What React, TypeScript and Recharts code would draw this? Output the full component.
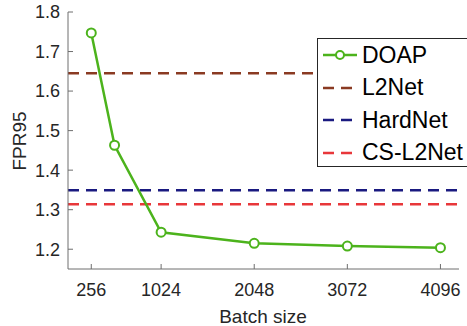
import { LineChart, Line, XAxis, YAxis, ReferenceLine, Label } from 'recharts';

const batchSizes = [256, 512, 1024, 2048, 3072, 4096];
const doapFpr = [1.747, 1.463, 1.243, 1.215, 1.208, 1.204];
const xTicks = [256, 1024, 2048, 3072, 4096];
const yTicks = [1.2, 1.3, 1.4, 1.5, 1.6, 1.7, 1.8];

const baselines = [
  { name: 'L2Net', value: 1.645, color: '#8a3a22' },
  { name: 'HardNet', value: 1.349, color: '#1a1a80' },
  { name: 'CS-L2Net', value: 1.314, color: '#e8373a' },
];

const data = batchSizes.map((b, i) => ({ batch: b, doap: doapFpr[i] }));

const GREEN = '#4cb31c';
const FONT = '"Liberation Sans", Arial, Helvetica, sans-serif';

function LegendBox() {
  return (
    <div
      style={{
        position: 'absolute',
        left: 317,
        top: 38,
        width: 152,
        height: 129,
        border: '1px solid #262626',
        background: '#fff',
        boxSizing: 'border-box',
        fontFamily: FONT,
        fontSize: 23,
        color: '#000',
      }}
    >
      <div style={{ display: 'flex', alignItems: 'center', height: 32.5 }}>
        <svg width={41} height={20} style={{ marginLeft: 3 }}>
          <line x1={2} y1={10} x2={36} y2={10} stroke={GREEN} strokeWidth={2.5} />
          <circle cx={19} cy={10} r={4} fill="#fff" stroke={GREEN} strokeWidth={2} />
        </svg>
        <span>DOAP</span>
      </div>
      {baselines.map((b) => (
        <div key={b.name} style={{ display: 'flex', alignItems: 'center', height: 32.5 }}>
          <svg width={41} height={20} style={{ marginLeft: 3 }}>
            <line x1={2} y1={10} x2={36} y2={10} stroke={b.color} strokeWidth={2.5} strokeDasharray="11 7" />
          </svg>
          <span>{b.name}</span>
        </div>
      ))}
    </div>
  );
}

export default function App() {
  return (
    <div style={{ position: 'absolute', left: 0, top: 0, width: 467, height: 326, background: '#fff' }}>
      <LineChart width={467} height={326} data={data} margin={{ top: 12, right: 8, bottom: 0, left: 0 }}>
        <XAxis
          dataKey="batch"
          type="number"
          domain={[0, 4300]}
          ticks={xTicks}
          interval={0}
          height={57}
          tickSize={-5}
          tickMargin={19}
          stroke="#6e6e6e"
          tick={{ fill: '#262626', fontSize: 18, fontFamily: FONT }}
        >
          <Label
            content={() => (
              <text x={263} y={323} textAnchor="middle" fill="#262626" fontSize={19} fontFamily={FONT}>
                Batch size
              </text>
            )}
          />
        </XAxis>
        <YAxis
          type="number"
          domain={[1.15, 1.8]}
          ticks={yTicks}
          interval={0}
          width={68}
          tickSize={-5}
          tickMargin={13}
          stroke="#6e6e6e"
          tickFormatter={(v: number) => v.toFixed(1)}
          tick={{ fill: '#262626', fontSize: 18, fontFamily: FONT }}
        >
          <Label
            content={() => (
              <text
                x={26}
                y={141}
                transform="rotate(-90 26 141)"
                textAnchor="middle"
                fill="#262626"
                fontSize={19}
                fontFamily={FONT}
              >
                FPR95
              </text>
            )}
          />
        </YAxis>
        {baselines.map((b) => (
          <ReferenceLine
            key={b.name}
            y={b.value}
            stroke={b.color}
            strokeWidth={2.5}
            strokeDasharray="11 7"
          />
        ))}
        <Line
          type="linear"
          dataKey="doap"
          stroke={GREEN}
          strokeWidth={2.5}
          dot={{ r: 4.5, fill: '#fff', stroke: GREEN, strokeWidth: 2 }}
          isAnimationActive={false}
        />
      </LineChart>
      <LegendBox />
    </div>
  );
}
